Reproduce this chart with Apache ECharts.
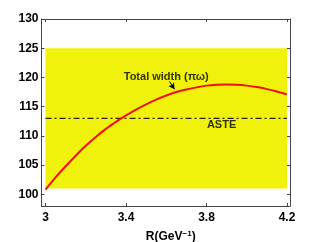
<!DOCTYPE html>
<html><head><meta charset="utf-8">
<script src="https://cdn.jsdelivr.net/npm/echarts@6/dist/echarts.min.js"></script>
<style>html,body{margin:0;padding:0;background:#fff}#c{width:321px;height:242px}</style>
</head><body><div id="c"></div>
<script>
// Data
const rValues = [3.00, 3.05, 3.10, 3.15, 3.20, 3.25, 3.30, 3.35, 3.40, 3.45, 3.50, 3.55, 3.60,
                 3.65, 3.70, 3.75, 3.80, 3.85, 3.90, 3.95, 4.00, 4.05, 4.10, 4.15, 4.20];
const totalWidth = [100.8, 102.9, 104.8, 106.6, 108.3, 109.8, 111.2, 112.4, 113.5, 114.5, 115.4, 116.2, 116.9,
                    117.5, 117.95, 118.3, 118.6, 118.75, 118.8, 118.75, 118.6, 118.35, 118.0, 117.6, 117.1];
const asteValue = 113;
const bandX = [3.0, 4.2];
const bandY = [101, 125];
const xTicks = [3, 3.4, 3.8, 4.2];
const yTicks = [100, 105, 110, 115, 120, 125, 130];
const xRange = [2.98, 4.215];
const yRange = [98, 130];
const labelTotal = 'Total width (πω)';
const labelAste = 'ASTE';
const labelTotalPos = [3.6, 120.0];
const labelAstePos = [3.875, 111.9];
const arrowFrom = [3.616, 119.3];
const arrowTo = [3.641, 118.0];

const FONT = '"Liberation Sans", Arial, Helvetica, sans-serif';
const axisCol = '#444';
const chart = echarts.init(document.getElementById('c'), null, {renderer: 'canvas'});

function xAx(pos, showLabel) {
  return {
    type: 'value', position: pos, min: xRange[0], max: xRange[1],
    axisLine: {show: true, onZero: false, lineStyle: {color: axisCol, width: 1}},
    axisTick: {show: true, inside: true, length: 3, customValues: xTicks, lineStyle: {color: axisCol}},
    axisLabel: {show: showLabel, customValues: xTicks, margin: 6, color: '#000', fontFamily: FONT, fontWeight: 'bold', fontSize: 12},
    splitLine: {show: false}
  };
}
function yAx(pos, showLabel) {
  return {
    type: 'value', position: pos, min: yRange[0], max: yRange[1],
    axisLine: {show: true, onZero: false, lineStyle: {color: axisCol, width: 1}},
    axisTick: {show: true, inside: true, length: 3, customValues: yTicks, lineStyle: {color: axisCol}},
    axisLabel: {show: showLabel, customValues: yTicks, margin: 3, color: '#000', fontFamily: FONT, fontWeight: 'bold', fontSize: 12},
    splitLine: {show: false}
  };
}

const xa0 = xAx('bottom', true);
xa0.name = 'R(GeV{sup|−1})';
xa0.nameLocation = 'middle';
xa0.nameGap = 24;
xa0.nameTextStyle = {
  color: '#000', fontFamily: FONT, fontWeight: 'bold', fontSize: 12, padding: [0, 0, 0, 10],
  rich: {sup: {fontSize: 8, fontWeight: 'bold', fontFamily: FONT, verticalAlign: 'top', padding: [0, 0, 6, 0], color: '#000'}}
};

chart.setOption({
  animation: false,
  grid: {left: 41.5, right: 31, top: 19, bottom: 36, containLabel: false, outerBoundsMode: 'none'},
  xAxis: [xa0, xAx('top', false)],
  yAxis: [yAx('left', true), yAx('right', false)],
  series: [
    {
      type: 'line', data: [], z: 1, silent: true,
      markArea: {
        silent: true,
        itemStyle: {color: '#f0f20c', opacity: 1},
        data: [[{coord: [bandX[0], bandY[1]]}, {coord: [bandX[1], bandY[0]]}]]
      }
    },
    {
      type: 'line', data: [[bandX[0], asteValue], [bandX[1], asteValue]],
      showSymbol: false, symbol: 'none', z: 3,
      lineStyle: {color: '#222', width: 1.2, type: [6, 3, 2, 3]}
    },
    {
      type: 'line', data: rValues.map((r, i) => [r, totalWidth[i]]),
      smooth: 0.3, showSymbol: false, symbol: 'none', z: 4,
      lineStyle: {color: '#f01010', width: 2},
      markLine: {
        silent: true, symbol: ['none', 'arrow'], symbolSize: [5, 6],
        lineStyle: {color: '#000', width: 1, type: 'solid'},
        label: {show: false},
        data: [[{coord: arrowFrom}, {coord: arrowTo}]]
      }
    },
    {
      type: 'scatter', symbolSize: 0, z: 5, silent: true,
      data: [
        {value: labelTotalPos, name: labelTotal},
        {value: labelAstePos, name: labelAste}
      ],
      label: {
        show: true, position: 'inside', formatter: p => p.name,
        color: '#000', fontFamily: FONT, fontWeight: 'bold', fontSize: 11
      }
    }
  ]
});
</script></body></html>
